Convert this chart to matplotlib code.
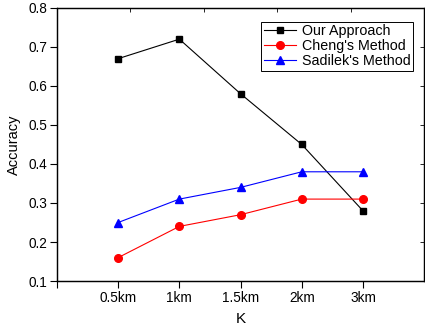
import matplotlib
matplotlib.use("Agg")
import matplotlib.pyplot as plt

plt.rcParams["font.family"] = ["Liberation Sans", "DejaVu Sans"]

categories = ["0.5km", "1km", "1.5km", "2km", "3km"]
our_approach = [0.67, 0.72, 0.58, 0.45, 0.28]
cheng = [0.16, 0.24, 0.27, 0.31, 0.31]
sadilek = [0.25, 0.31, 0.34, 0.38, 0.38]

x = list(range(1, len(categories) + 1))

fig = plt.figure(figsize=(4.25, 3.31), dpi=100)
ax = fig.add_axes([0.134, 0.151, 0.864, 0.825])

ax.plot(x, our_approach, color="black", marker="s", markersize=5, linewidth=0.8, label="Our Approach")
ax.plot(x, cheng, color="red", marker="o", markersize=5.5, linewidth=0.8, label="Cheng's Method")
ax.plot(x, sadilek, color="blue", marker="^", markersize=6, linewidth=0.8, label="Sadilek's Method")

ax.set_xlim(0, 6)
ax.set_ylim(0.1, 0.8)
ax.set_xticks([0] + x)
ax.set_xticklabels([""] + categories)
ax.set_yticks([0.1, 0.2, 0.3, 0.4, 0.5, 0.6, 0.7, 0.8])
ax.set_yticklabels(["0.1", "0.2", "0.3", "0.4", "0.5", "0.6", "0.7", "0.8"])
ax.tick_params(direction="out", length=5, width=0.8, labelsize=9.8, pad=2)
ax.set_xlabel("K", fontsize=11, labelpad=5)
ax.set_ylabel("Accuracy", fontsize=10.5, labelpad=5)
for s in ax.spines.values():
    s.set_linewidth(0.9)

# mirrored inward ticks on top and right
axr = ax.twinx()
axr.set_ylim(0.1, 0.8)
axr.set_yticks([0.2, 0.3, 0.4, 0.5, 0.6, 0.7])
axr.tick_params(direction="in", length=3, width=0.6, labelright=False)
axt = ax.twiny()
axt.set_xlim(0, 1)
axt.set_xticks([0.2, 0.4, 0.6, 0.8])
axt.tick_params(direction="in", length=3, width=0.6, labeltop=False)

leg = ax.legend(loc="upper right", bbox_to_anchor=(0.97, 0.95), fontsize=10.3,
                fancybox=False, edgecolor="black", framealpha=1,
                handlelength=2.2, borderpad=0.2, labelspacing=0.05, handletextpad=0.4,
                borderaxespad=0)
leg.get_frame().set_linewidth(0.7)

plt.savefig("out.png", dpi=100)
